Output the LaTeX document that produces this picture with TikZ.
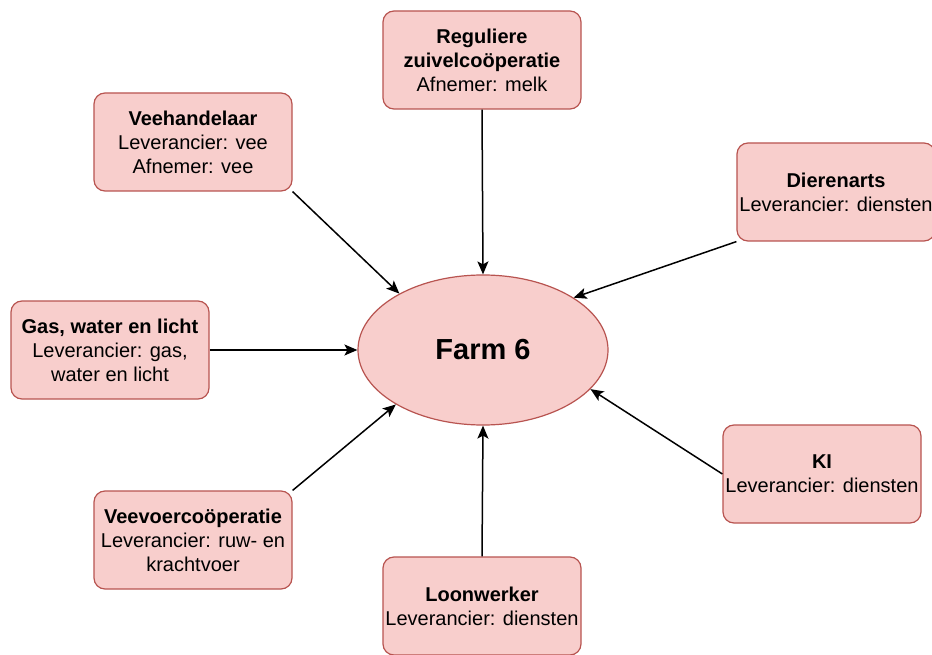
\documentclass[tikz,border=0pt]{standalone}
\usepackage{fontspec}
\setmainfont{Liberation Sans}
\usetikzlibrary{arrows.meta,shapes.geometric}
\definecolor{boxfill}{HTML}{F8CECC}
\definecolor{boxline}{HTML}{B85450}
\begin{document}
\begin{tikzpicture}[x=1pt,y=-1pt,
  party/.style={draw=boxline,fill=boxfill,line width=1.2pt,rounded corners=11pt,
    minimum width=198pt,minimum height=98pt,align=center,inner sep=2pt,
    font=\fontsize{20}{24}\selectfont},
  farmnode/.style={ellipse,draw=boxline,fill=boxfill,line width=1.2pt,
    minimum width=250pt,minimum height=150pt,inner sep=0pt,
    font=\fontsize{29}{34}\selectfont\bfseries},
  link/.style={line width=1.5pt,-{Stealth[length=13pt,width=11pt,inset=3pt]}}]
\clip (0,0) rectangle (932,655);
\fill[white] (0,0) rectangle (932,655);

\node[farmnode] (farm) at (483,350) {Farm 6};

\node[party] (zuivel) at (482,60) {\textbf{Reguliere}\\\textbf{zuivelcoöperatie}\\Afnemer: melk};
\node[party] (veeh) at (193,142) {\textbf{Veehandelaar}\\Leverancier: vee\\Afnemer: vee};
\node[party] (arts) at (836,192) {\textbf{Dierenarts}\\Leverancier: diensten};
\node[party] (gas) at (110,350) {\textbf{Gas, water en licht}\\Leverancier: gas,\\water en licht};
\node[party] (ki) at (822,474) {\textbf{KI}\\Leverancier: diensten};
\node[party] (voer) at (193,540) {\textbf{Veevoercoöperatie}\\Leverancier: ruw- en\\krachtvoer};
\node[party] (loon) at (482,606) {\textbf{Loonwerker}\\Leverancier: diensten};

\draw[link] (zuivel.south) -- (farm.north);
\draw[link] (veeh.south east) -- (farm.146);
\draw[link] (arts.south west) -- (farm.30);
\draw[link] (gas.east) -- (farm.west);
\draw[link] (ki.west) -- (farm.-20);
\draw[link] (voer.north east) -- (farm.212);
\draw[link] (loon.north) -- (farm.south);
\end{tikzpicture}
\end{document}
